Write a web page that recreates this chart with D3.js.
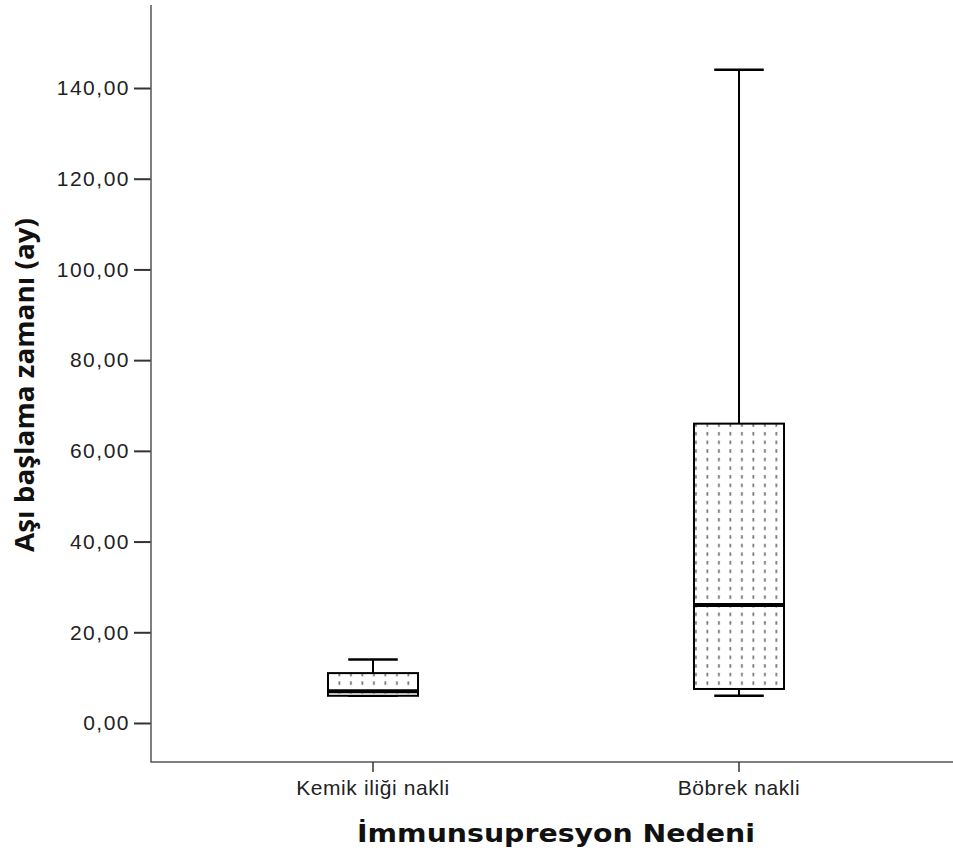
<!DOCTYPE html>
<html><head><meta charset="utf-8">
<script src="https://cdn.jsdelivr.net/npm/d3@7"></script>
<style>body{margin:0;background:#fff}</style>
</head><body>
<svg id="c" width="953" height="854"></svg>
<script>
const categories = ["Kemik iliği nakli", "Böbrek nakli"];
const whiskerLow = [6, 6];
const q1 = [6, 7.5];
const median = [7, 26];
const q3 = [11, 66];
const whiskerHigh = [14, 144];
const yTicks = [0, 20, 40, 60, 80, 100, 120, 140];
const yTitle = "Aşı başlama zamanı (ay)";
const xTitle = "İmmunsupresyon Nedeni";

(function(){
const svg = d3.select("#c");
const pL = 151, pR = 953, pT = 5, pB = 762;
const y = d3.scaleLinear().domain([-8.6, 158.3]).range([pB, pT]);
const x = d3.scaleBand().domain(categories).range([190, 922]).paddingInner(0.754).paddingOuter(0.377);

const defs = svg.append("defs");
const pat = defs.append("pattern").attr("id","dots").attr("patternUnits","userSpaceOnUse")
  .attr("width",11.5).attr("height",8.6).attr("x",0).attr("y",0);
pat.append("rect").attr("width",11.5).attr("height",8.6).attr("fill","#fff");
pat.append("rect").attr("x",5).attr("y",2).attr("width",1.8).attr("height",3.5).attr("fill","#777");

const yAxis = svg.append("g").attr("transform",`translate(${pL},0)`)
  .call(d3.axisLeft(y).tickValues(yTicks).tickSize(17).tickPadding(4).tickFormat(d => d3.format(".2f")(d).replace(".", ",")));
yAxis.select(".domain").remove();
yAxis.selectAll(".tick line").attr("stroke","#333").attr("stroke-width",2);
yAxis.selectAll("text").attr("font-family","Liberation Sans, Arial, sans-serif").attr("font-size",21).attr("fill","#222").attr("letter-spacing",1.5);
svg.append("path").attr("d",`M${pL},${pT}V${pB}H${pR}`).attr("fill","none").attr("stroke","#555").attr("stroke-width",1.5);

const xAxis = svg.append("g").attr("transform",`translate(0,${pB})`)
  .call(d3.axisBottom(x).tickSize(10).tickPadding(8));
xAxis.select(".domain").remove();
xAxis.selectAll(".tick line").attr("stroke","#333").attr("stroke-width",1.5);
xAxis.selectAll("text").attr("font-family","Liberation Sans, Arial, sans-serif").attr("font-size",21).attr("fill","#222")
  .attr("letter-spacing",0.6);

const g = svg.append("g");
categories.forEach((c, i) => {
  const cx = x(c) + x.bandwidth()/2;
  const w = x.bandwidth();
  const cap = w * 0.55;
  g.append("line").attr("x1",cx).attr("x2",cx).attr("y1",y(whiskerHigh[i])).attr("y2",y(q3[i])).attr("stroke","#000").attr("stroke-width",2);
  g.append("line").attr("x1",cx).attr("x2",cx).attr("y1",y(q1[i])).attr("y2",y(whiskerLow[i])).attr("stroke","#000").attr("stroke-width",2);
  g.append("line").attr("x1",cx-cap/2).attr("x2",cx+cap/2).attr("y1",y(whiskerHigh[i])).attr("y2",y(whiskerHigh[i])).attr("stroke","#000").attr("stroke-width",2.5);
  g.append("line").attr("x1",cx-cap/2).attr("x2",cx+cap/2).attr("y1",y(whiskerLow[i])).attr("y2",y(whiskerLow[i])).attr("stroke","#000").attr("stroke-width",2.5);
  g.append("rect").attr("x",x(c)).attr("width",w).attr("y",y(q3[i])).attr("height",y(q1[i])-y(q3[i]))
    .attr("fill","url(#dots)").attr("stroke","#000").attr("stroke-width",2);
  g.append("line").attr("x1",x(c)).attr("x2",x(c)+w).attr("y1",y(median[i])).attr("y2",y(median[i])).attr("stroke","#000").attr("stroke-width",4);
});

svg.append("text").attr("transform",`translate(34,385) rotate(-90)`).attr("text-anchor","middle")
  .attr("font-family","Open Sans, sans-serif").attr("font-weight","bold").attr("font-size",27)
  .attr("textLength",334).attr("lengthAdjust","spacingAndGlyphs").attr("fill","#111").text(yTitle);
svg.append("text").attr("x",556).attr("y",842).attr("text-anchor","middle")
  .attr("font-family","DejaVu Sans, sans-serif").attr("font-weight","bold").attr("font-size",24)
  .attr("textLength",398).attr("lengthAdjust","spacingAndGlyphs").attr("fill","#111").text(xTitle);
})();
</script>
</body></html>
